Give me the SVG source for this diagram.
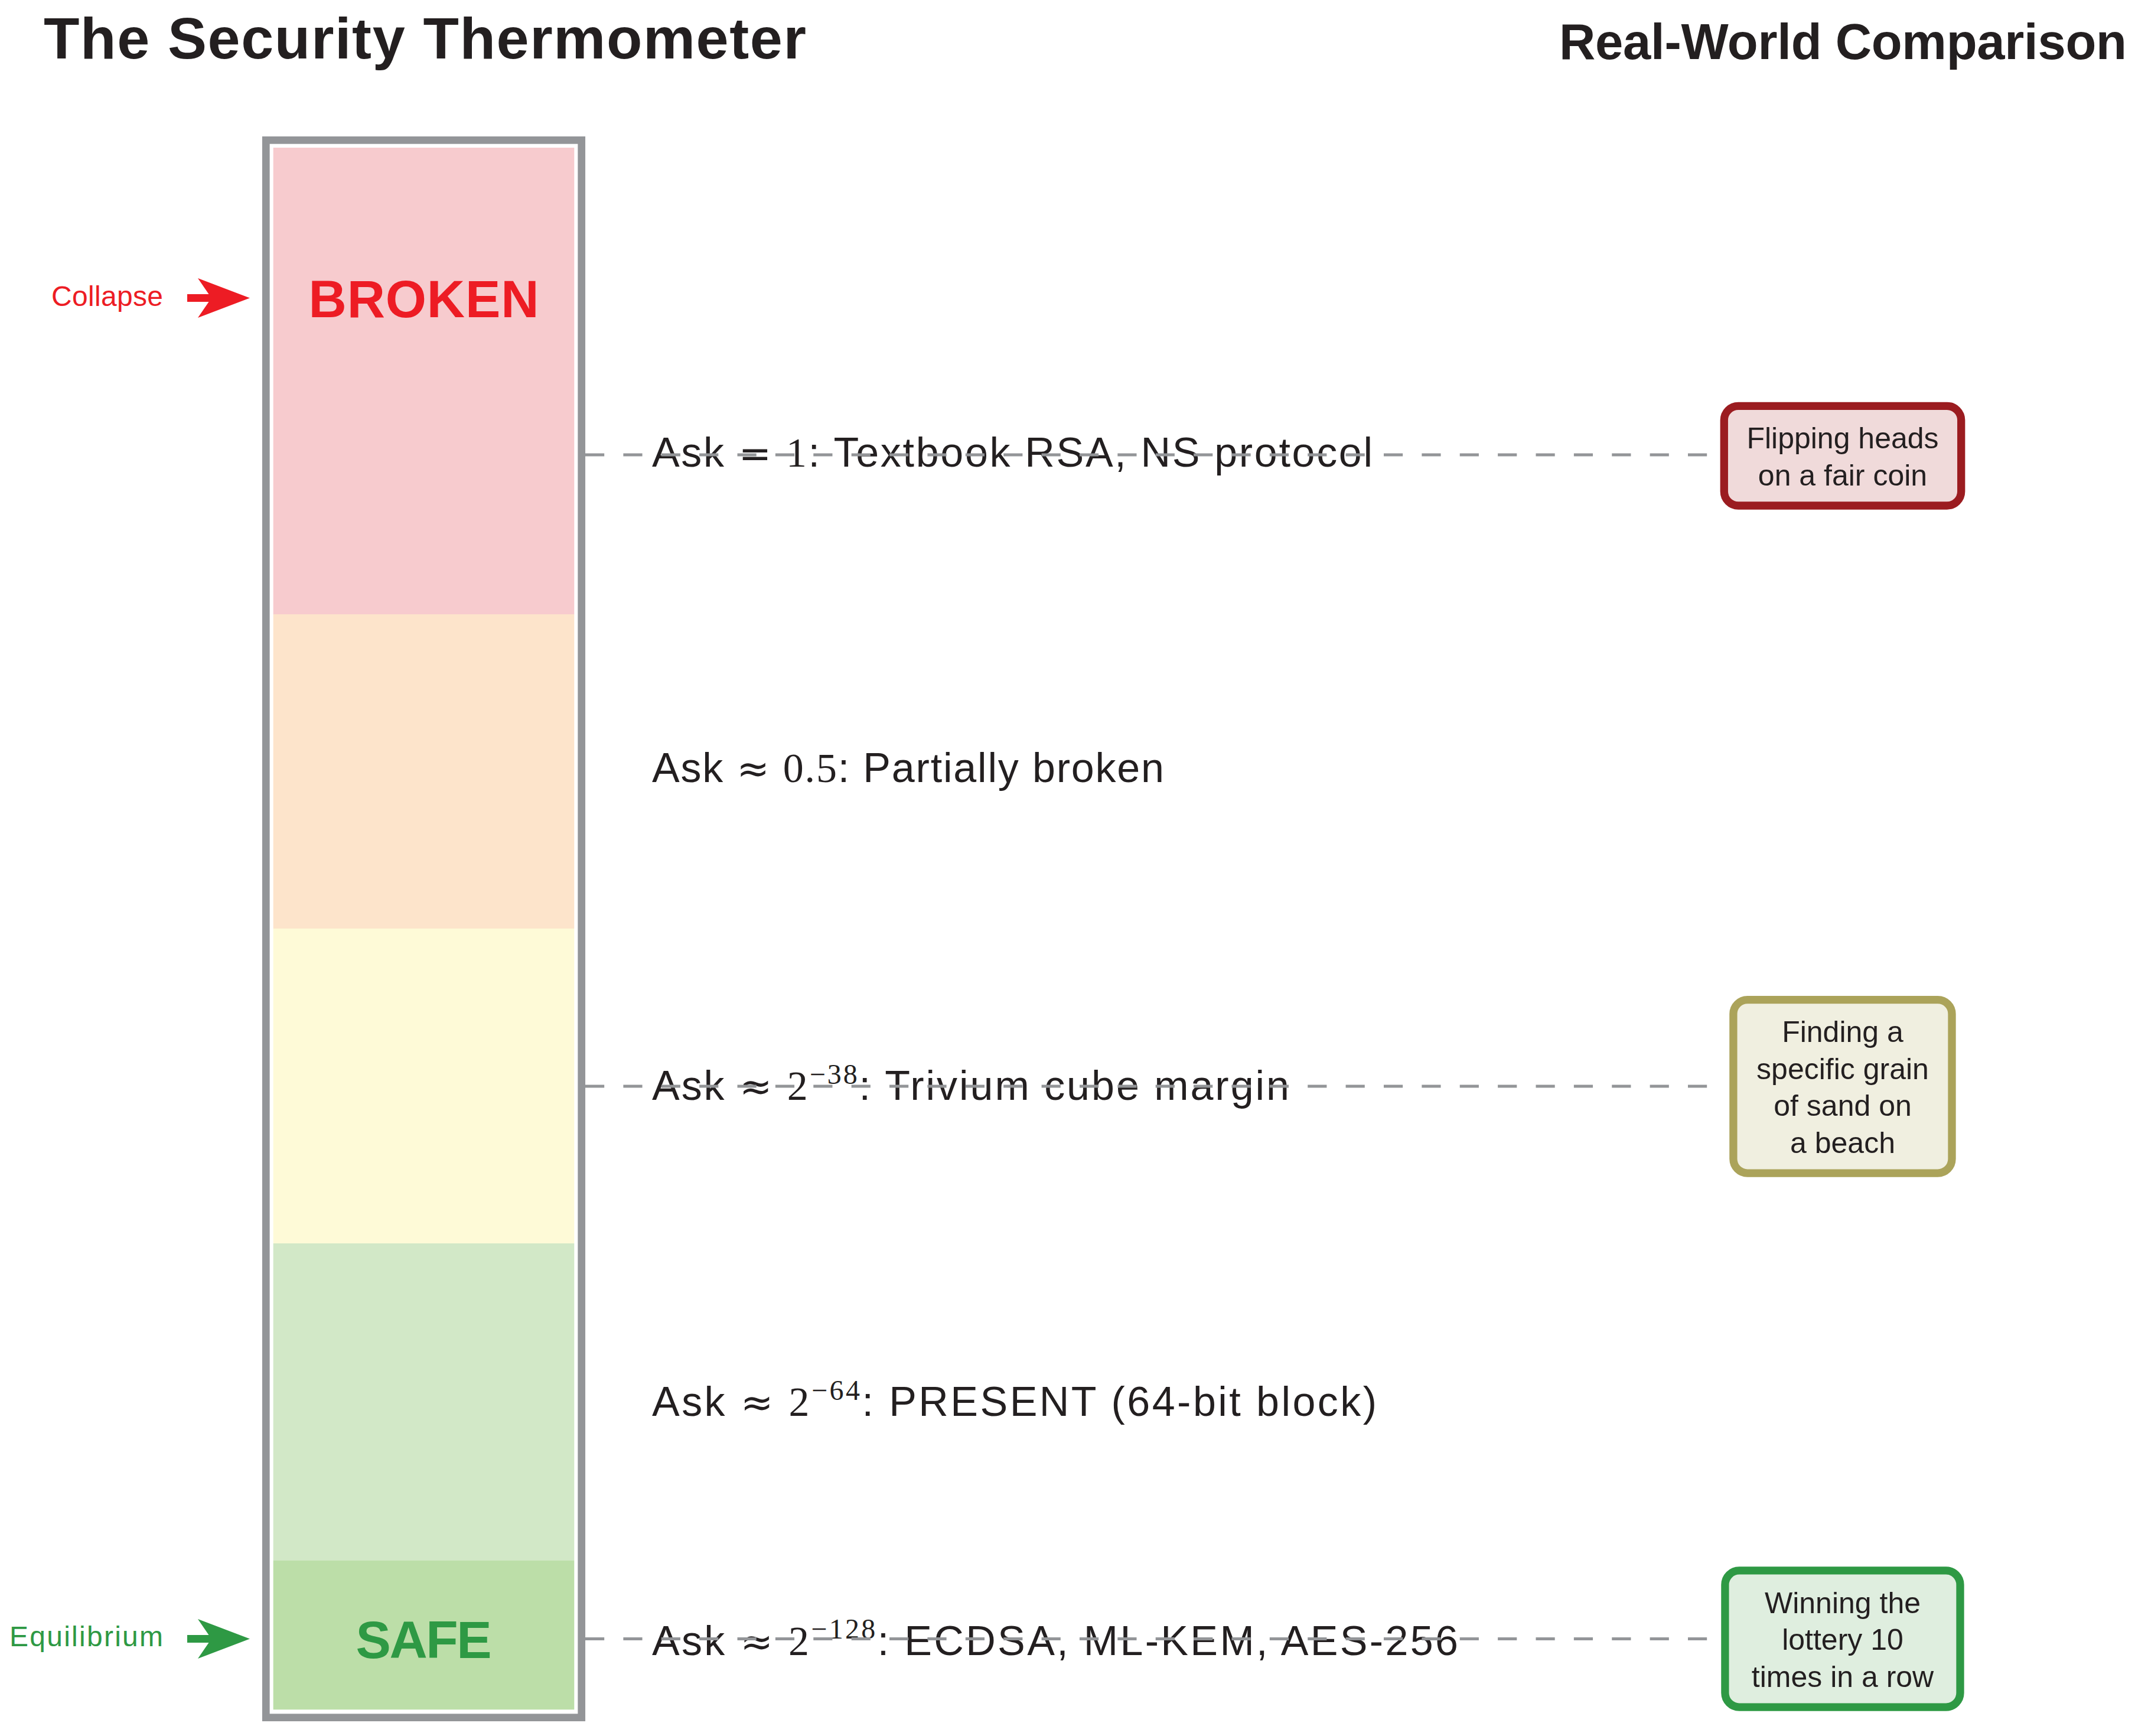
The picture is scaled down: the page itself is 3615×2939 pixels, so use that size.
<svg xmlns="http://www.w3.org/2000/svg" width="3615" height="2939" viewBox="0 0 3615 2939">
  <style>
    .title { font-family: "Liberation Sans", Arial, sans-serif; font-weight: bold; fill: #231F20; }
    .row { font-family: "Liberation Sans", Arial, sans-serif; font-size: 70px; fill: #231F20; }
    .math { font-family: "Liberation Serif", "Times New Roman", serif; }
    .rel { font-family: "DejaVu Sans", sans-serif; font-size: 66px; }
    .sup { font-family: "Liberation Serif", "Times New Roman", serif; font-size: 48px; }
    .zone { font-family: "Liberation Sans", Arial, sans-serif; font-weight: bold; font-size: 89px; text-anchor: middle; }
    .side { font-family: "Liberation Sans", Arial, sans-serif; font-size: 48px; text-anchor: end; }
    .boxtext { font-family: "Liberation Sans", Arial, sans-serif; font-size: 50px; fill: #231F20; text-anchor: middle; }
    .dash { stroke: #939598; stroke-width: 5; stroke-dasharray: 32.19 32.19; fill: none; }
    .red { fill: #ED1C24; }
    .green { fill: #2E9944; }
  </style>
  <defs>
    <path id="stealth" d="M-106,-6.5 L-69.5,-6.5 L-88,-33.5 L0,0 L-88,33.5 L-69.5,6.5 L-106,6.5 Z"/>
  </defs>
  <rect width="3615" height="2939" fill="#FFFFFF"/>

  <g id="title-left">
    <text class="title" x="74" y="99" font-size="99" textLength="1291">The Security Thermometer</text>
  </g>
  <g id="title-right">
    <text class="title" x="2640" y="100" font-size="85" textLength="961">Real-World Comparison</text>
  </g>

  <g id="thermometer">
    <rect x="450.3" y="237.3" width="534.4" height="2670.4" fill="#FFFFFF" stroke="#939598" stroke-width="12.7"/>
    <rect x="462.7" y="250" width="509.6" height="790" fill="#F7CBCE"/>
    <rect x="462.7" y="1040" width="509.6" height="532" fill="#FDE4CB"/>
    <rect x="462.7" y="1572" width="509.6" height="533" fill="#FEFAD7"/>
    <rect x="462.7" y="2105" width="509.6" height="537" fill="#D2E8C7"/>
    <rect x="462.7" y="2642" width="509.6" height="252.3" fill="#BCDEA8"/>
    <text class="zone red" x="717.5" y="537" textLength="390">BROKEN</text>
    <text class="zone green" x="717.5" y="2807" textLength="230">SAFE</text>
  </g>

  <g id="marker-collapse">
    <text class="side red" x="276" y="518" textLength="189">Collapse</text>
    <use href="#stealth" transform="translate(423,504.5)" class="red"/>
  </g>
  <g id="marker-equilibrium">
    <text class="side green" x="276" y="2787" textLength="260">Equilibrium</text>
    <use href="#stealth" transform="translate(423,2774.5)" class="green"/>
  </g>

  <g id="level-1">
    <text class="row" x="1104" y="790" textLength="1220">Ask <tspan class="rel">=</tspan> <tspan class="math">1</tspan>: Textbook RSA, NS protocol</text>
  </g>
  <g id="level-2">
    <text class="row" x="1104" y="1324" textLength="867">Ask <tspan class="rel">≈</tspan> <tspan class="math">0.5</tspan>: Partially broken</text>
  </g>
  <g id="level-3">
    <text class="row" x="1104" y="1862" textLength="1079">Ask <tspan class="rel">≈</tspan> <tspan class="math">2</tspan><tspan class="sup" dy="-27">−38</tspan><tspan dy="27">: Trivium cube margin</tspan></text>
  </g>
  <g id="level-4">
    <text class="row" x="1104" y="2397" textLength="1227">Ask <tspan class="rel">≈</tspan> <tspan class="math">2</tspan><tspan class="sup" dy="-27">−64</tspan><tspan dy="27">: PRESENT (64-bit block)</tspan></text>
  </g>
  <g id="level-5">
    <text class="row" x="1104" y="2802" textLength="1365">Ask <tspan class="rel">≈</tspan> <tspan class="math">2</tspan><tspan class="sup" dy="-28">−128</tspan><tspan dy="28">: ECDSA, ML-KEM, AES-256</tspan></text>
  </g>

  <g id="compare-coin">
    <rect x="2919.3" y="687.3" width="401.4" height="168.7" rx="24" ry="24" fill="#F0DADA" stroke="#9B1C20" stroke-width="13.3"/>
    <text class="boxtext" x="3120" y="759">Flipping heads</text>
    <text class="boxtext" x="3120" y="822">on a fair coin</text>
  </g>
  <g id="compare-sand">
    <rect x="2934.9" y="1692.6" width="370.1" height="293.5" rx="24" ry="24" fill="#F0EFE0" stroke="#ABA35A" stroke-width="13.3"/>
    <text class="boxtext" x="3120" y="1764">Finding a</text>
    <text class="boxtext" x="3120" y="1827">specific grain</text>
    <text class="boxtext" x="3120" y="1889">of sand on</text>
    <text class="boxtext" x="3120" y="1952">a beach</text>
  </g>
  <g id="compare-lottery">
    <rect x="2920.9" y="2658.9" width="398.1" height="231.2" rx="24" ry="24" fill="#DFEEDF" stroke="#2E9944" stroke-width="13.3"/>
    <text class="boxtext" x="3120" y="2731">Winning the</text>
    <text class="boxtext" x="3120" y="2793">lottery 10</text>
    <text class="boxtext" x="3120" y="2856">times in a row</text>
  </g>

  <g id="connectors">
    <line class="dash" x1="991" y1="770" x2="2892" y2="770"/>
    <line class="dash" x1="991" y1="1839" x2="2892" y2="1839"/>
    <line class="dash" x1="991" y1="2774.5" x2="2892" y2="2774.5"/>
  </g>
</svg>
